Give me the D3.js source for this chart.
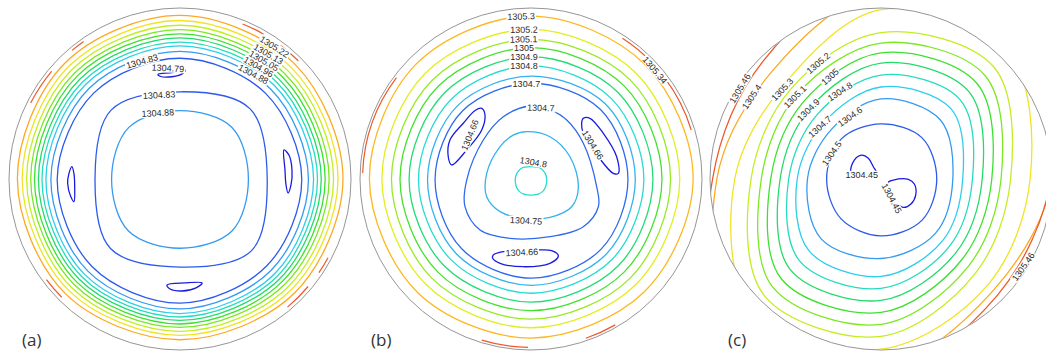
<!DOCTYPE html>
<html>
<head>
<meta charset="utf-8">
<script src="https://d3js.org/d3.v7.min.js"></script>
<style>
  body { margin: 0; background: #fff; }
  svg { display: block; }
</style>
</head>
<body>
<script>
// Set Dimensions
const W = 1046, H = 352;
const R = 171;
const angles = [0, 45, 90, 135, 180, 225, 270, 315]; // radius samples: up, NE, right, SE, down, SW, left, NW

// ---------- panel (a)
const levelsA = [1304.79, 1304.83, 1304.88, 1304.92, 1304.96, 1305.01, 1305.05, 1305.09, 1305.13, 1305.18, 1305.22, 1305.26];
const ringsA = [
  [1, [0.706, 0.708, 0.712, 0.718, 0.726, 0.726, 0.718, 0.712]],
  [2, [0.746, 0.747, 0.751, 0.754, 0.760, 0.762, 0.755, 0.751]],
  [3, [0.778, 0.777, 0.781, 0.783, 0.787, 0.789, 0.784, 0.781]],
  [4, [0.801, 0.800, 0.804, 0.804, 0.807, 0.810, 0.807, 0.804]],
  [5, [0.825, 0.822, 0.826, 0.825, 0.827, 0.831, 0.828, 0.827]],
  [6, [0.849, 0.846, 0.849, 0.847, 0.848, 0.853, 0.851, 0.851]],
  [7, [0.873, 0.869, 0.872, 0.869, 0.868, 0.874, 0.873, 0.874]],
  [8, [0.899, 0.894, 0.898, 0.893, 0.891, 0.897, 0.897, 0.899]],
  [9, [0.927, 0.921, 0.924, 0.918, 0.914, 0.921, 0.923, 0.926]],
  [10, [0.957, 0.950, 0.953, 0.945, 0.940, 0.948, 0.951, 0.955]],
  [1, [0.510, 0.580, 0.510, 0.592, 0.515, 0.575, 0.497, 0.570]],
  [2, [0.400, 0.428, 0.400, 0.430, 0.405, 0.428, 0.400, 0.425]]
];
const islandsA = [
  [0, [[-0.129, 0.612], [-0.047, 0.622], [0.029, 0.637], [0.018, 0.618], [-0.047, 0.598], [-0.117, 0.601]]],
  [0, [[0.608, 0.170], [0.637, 0.140], [0.655, 0.053], [0.649, -0.035], [0.632, -0.082], [0.620, -0.035], [0.614, 0.053]]],
  [0, [[-0.632, 0.072], [-0.620, 0.030], [-0.616, -0.040], [-0.620, -0.133], [-0.640, -0.100], [-0.657, -0.025], [-0.650, 0.030]]],
  [0, [[-0.076, -0.620], [0.029, -0.608], [0.129, -0.608], [0.094, -0.637], [0.012, -0.655], [-0.058, -0.643]]]
];
const arcsA = [[22, 30, 0.978], [37, 45, 0.978], [118, 124, 0.98], [130, 140, 0.978], [225, 233, 0.978], [297, 310, 0.98], [320, 325, 0.982]];
const labelsA = [
  ["1305.22", 0.552, 0.773, 32],
  ["1305.13", 0.517, 0.730, 30],
  ["1305.05", 0.490, 0.691, 30],
  ["1304.96", 0.459, 0.655, 30],
  ["1304.88", 0.429, 0.613, 28],
  ["1304.83", -0.222, 0.688, -16],
  ["1304.79", -0.070, 0.648, 3],
  ["1304.83", -0.123, 0.491, -3],
  ["1304.88", -0.129, 0.386, -3]
];

// ---------- panel (b)
const levelsB = [1304.66, 1304.7, 1304.75, 1304.8, 1304.9, 1305, 1305.1, 1305.2, 1305.3, 1305.34];
const ringsB = [
  [1, [0.560, 0.575, 0.567, 0.580, 0.580, 0.575, 0.561, 0.565]],
  [2, [0.602, 0.618, 0.610, 0.622, 0.622, 0.618, 0.605, 0.607]],
  [3, [0.661, 0.665, 0.660, 0.668, 0.668, 0.665, 0.658, 0.660]],
  [4, [0.715, 0.718, 0.713, 0.720, 0.720, 0.718, 0.713, 0.714]],
  [5, [0.768, 0.770, 0.766, 0.770, 0.770, 0.770, 0.766, 0.767]],
  [6, [0.817, 0.820, 0.816, 0.820, 0.820, 0.820, 0.816, 0.817]],
  [7, [0.875, 0.872, 0.870, 0.870, 0.870, 0.870, 0.872, 0.874]],
  [8, [0.953, 0.945, 0.948, 0.935, 0.930, 0.938, 0.945, 0.950]],
  [3, [0.072, 0.085, 0.092, 0.100, 0.094, 0.100, 0.092, 0.085]]
];
const islandsB = [
  [1, [[-0.006, 0.427], [0.111, 0.404], [0.209, 0.345], [0.306, 0.209], [0.384, -0.045], [0.394, -0.162], [0.306, -0.279],
       [0.111, -0.337], [-0.123, -0.347], [-0.298, -0.298], [-0.386, -0.162], [-0.376, -0.006], [-0.279, 0.228], [-0.162, 0.364]]],
  [2, [[-0.025, 0.277], [0.111, 0.247], [0.228, 0.130], [0.277, -0.045], [0.238, -0.162], [0.111, -0.224], [-0.045, -0.230],
       [-0.181, -0.191], [-0.259, -0.104], [-0.259, 0.033], [-0.181, 0.189], [-0.104, 0.257]]],
  [0, [[-0.288, 0.413], [-0.269, 0.374], [-0.288, 0.287], [-0.376, 0.170], [-0.464, 0.082], [-0.484, 0.130], [-0.474, 0.228], [-0.396, 0.326], [-0.327, 0.401]]],
  [0, [[0.306, 0.355], [0.345, 0.355], [0.423, 0.267], [0.501, 0.130], [0.511, 0.033], [0.481, 0.033], [0.394, 0.130], [0.306, 0.267], [0.296, 0.326]]],
  [0, [[-0.220, -0.444], [-0.162, -0.425], [0.033, -0.415], [0.121, -0.419], [0.160, -0.450], [0.111, -0.493], [-0.045, -0.513], [-0.181, -0.493], [-0.224, -0.464]]]
];
const arcsB = [[33, 46, 0.982], [53, 73, 0.98], [272, 307, 0.985], [150, 161, 0.985], [181, 197, 0.985]];
const labelsB = [
  ["1305.3", -0.058, 0.951, -2],
  ["1305.2", -0.041, 0.873, -1],
  ["1305.1", -0.043, 0.817, -1],
  ["1305", -0.041, 0.768, 0],
  ["1304.9", -0.041, 0.715, 0],
  ["1304.8", -0.041, 0.661, 0],
  ["1304.7", -0.027, 0.557, 0],
  ["1304.7", 0.057, 0.416, 2],
  ["1304.66", -0.357, 0.257, -68],
  ["1304.66", 0.361, 0.199, 58],
  ["1304.8", 0.014, 0.098, 10],
  ["1304.75", -0.029, -0.244, 3],
  ["1304.66", -0.054, -0.429, -3],
  ["1305.34", 0.725, 0.637, 50]
];

// ---------- panel (c)
const levelsC = [1304.45, 1304.5, 1304.6, 1304.7, 1304.8, 1304.9, 1305, 1305.1, 1305.2, 1305.3, 1305.4, 1305.46];
const ringsC = [
  [1, [0.322, 0.340, 0.326, 0.340, 0.333, 0.330, 0.318, 0.330]],
  [2, [0.468, 0.490, 0.420, 0.450, 0.465, 0.495, 0.430, 0.410]],
  [3, [0.538, 0.580, 0.478, 0.510, 0.570, 0.595, 0.490, 0.470]],
  [4, [0.608, 0.655, 0.535, 0.562, 0.640, 0.675, 0.540, 0.530]],
  [5, [0.678, 0.725, 0.592, 0.615, 0.710, 0.750, 0.590, 0.586]],
  [6, [0.737, 0.792, 0.648, 0.668, 0.780, 0.825, 0.645, 0.640]],
  [7, [0.795, 0.858, 0.702, 0.722, 0.850, 0.895, 0.700, 0.696]],
  [8, [0.856, 0.930, 0.758, 0.780, 0.920, 0.965, 0.760, 0.745]],
  [9, [0.990, 1.050, 0.872, 0.880, 0.995, 1.070, 0.855, 0.793]],
  [10, [1.100, 1.200, 1.000, 0.925, 1.100, 1.200, 0.960, 0.896]],
  [11, [1.200, 1.300, 0.995, 0.962, 1.150, 1.300, 0.985, 0.975]]
];
const islandsC = [
  [0, [[-0.175, 0.037], [-0.156, 0.111], [-0.113, 0.140], [-0.074, 0.121], [-0.045, 0.072], [-0.026, 0.033], [-0.094, 0.013]]],
  [0, [[0.039, -0.022], [0.072, -0.006], [0.160, -0.002], [0.195, -0.029], [0.203, -0.094], [0.175, -0.146], [0.130, -0.166], [0.082, -0.123]]]
];
const arcsC = [];
const labelsC = [
  ["1305.46", -0.825, 0.530, -59],
  ["1305.4", -0.756, 0.481, -56],
  ["1305.3", -0.577, 0.524, -47],
  ["1305.2", -0.367, 0.677, -40],
  ["1305.1", -0.503, 0.481, -45],
  ["1305", -0.298, 0.598, -42],
  ["1304.9", -0.425, 0.404, -45],
  ["1304.8", -0.240, 0.511, -33],
  ["1304.7", -0.357, 0.306, -42],
  ["1304.6", -0.181, 0.364, -35],
  ["1304.5", -0.288, 0.150, -55],
  ["1304.45", -0.113, 0.023, 0],
  ["1304.45", 0.063, -0.113, 62],
  ["1305.46", 0.832, -0.513, -55]
];

// jet-like colours, picked by rank of the level inside each panel
const colorStops = ["#1a1ae0", "#2e62ec", "#36a6f2", "#2adcea", "#22dca4", "#22dc3a", "#5ce622", "#b4ec22", "#eeee22", "#ffb020", "#ec5a2a"];
const jet = d3.scaleLinear()
  .domain(colorStops.map((c, i) => i / (colorStops.length - 1)))
  .range(colorStops);

const panels = [
  { letter: "(a)", cx: 180, cy: 179, lx: 22, levels: levelsA, rings: ringsA, islands: islandsA, arcs: arcsA, labels: labelsA },
  { letter: "(b)", cx: 531, cy: 179, lx: 371, levels: levelsB, rings: ringsB, islands: islandsB, arcs: arcsB, labels: labelsB },
  { letter: "(c)", cx: 881, cy: 179, lx: 728, levels: levelsC, rings: ringsC, islands: islandsC, arcs: arcsC, labels: labelsC }
];

const svg = d3.select("body").append("svg")
  .attr("width", W)
  .attr("height", H);

function drawPanel(p, k) {
  const g = svg.append("g").attr("transform", "translate(" + p.cx + "," + p.cy + ")");
  const x = d3.scaleLinear().domain([-1, 1]).range([-R, R]);
  const y = d3.scaleLinear().domain([-1, 1]).range([R, -R]);
  const rad = d3.scaleLinear().domain([0, 1]).range([0, R]);
  const ang = d3.scaleLinear().domain([0, 360]).range([0, 2 * Math.PI]);
  const col = i => jet(i / (p.levels.length - 1));

  g.append("clipPath").attr("id", "clip" + k)
    .append("circle").attr("r", R - 0.5);
  const c = g.append("g").attr("clip-path", "url(#clip" + k + ")");

  const ring = d3.lineRadial()
    .angle((d, i) => ang(angles[i]))
    .radius(d => rad(d))
    .curve(d3.curveCatmullRomClosed);
  c.selectAll(".ring").data(p.rings).join("path")
    .attr("class", "ring")
    .attr("d", d => ring(d[1]))
    .attr("fill", "none")
    .attr("stroke", d => col(d[0]))
    .attr("stroke-width", 1.3);

  const island = d3.line()
    .x(d => x(d[0]))
    .y(d => y(d[1]))
    .curve(d3.curveCatmullRomClosed);
  c.selectAll(".island").data(p.islands).join("path")
    .attr("class", "island")
    .attr("d", d => island(d[1]))
    .attr("fill", "none")
    .attr("stroke", d => col(d[0]))
    .attr("stroke-width", 1.3);

  const arc = d3.arc();
  c.selectAll(".arc").data(p.arcs).join("path")
    .attr("class", "arc")
    .attr("d", d => arc({ innerRadius: rad(d[2]), outerRadius: rad(d[2]), startAngle: ang(d[0]), endAngle: ang(d[1]) }))
    .attr("fill", "none")
    .attr("stroke", col(p.levels.length - 1))
    .attr("stroke-width", 1.2);

  g.append("circle")
    .attr("r", R)
    .attr("fill", "none")
    .attr("stroke", "#959595")
    .attr("stroke-width", 1);

  // inline contour labels
  const lab = g.selectAll(".lab").data(p.labels).join("g")
    .attr("class", "lab")
    .attr("transform", d => "translate(" + x(d[1]) + "," + y(d[2]) + ") rotate(" + d[3] + ")");
  lab.append("rect").attr("fill", "#fff");
  const txt = lab.append("text")
    .text(d => d[0])
    .attr("text-anchor", "middle")
    .attr("dy", "0.35em")
    .style("font-family", "'Liberation Sans', Arial, sans-serif")
    .style("font-size", "9px")
    .attr("fill", "#2a2a2a");
  txt.each(function () {
    const w = this.getComputedTextLength();
    d3.select(this.parentNode).select("rect")
      .attr("x", -w / 2 - 1).attr("y", -4.3)
      .attr("width", w + 2).attr("height", 8.6);
  });

  svg.append("text")
    .attr("x", p.lx)
    .attr("y", 346)
    .text(p.letter)
    .style("font-family", "'Open Sans', sans-serif")
    .style("font-size", "17px")
    .attr("fill", "#333");
}

panels.forEach(drawPanel);
</script>
</body>
</html>
